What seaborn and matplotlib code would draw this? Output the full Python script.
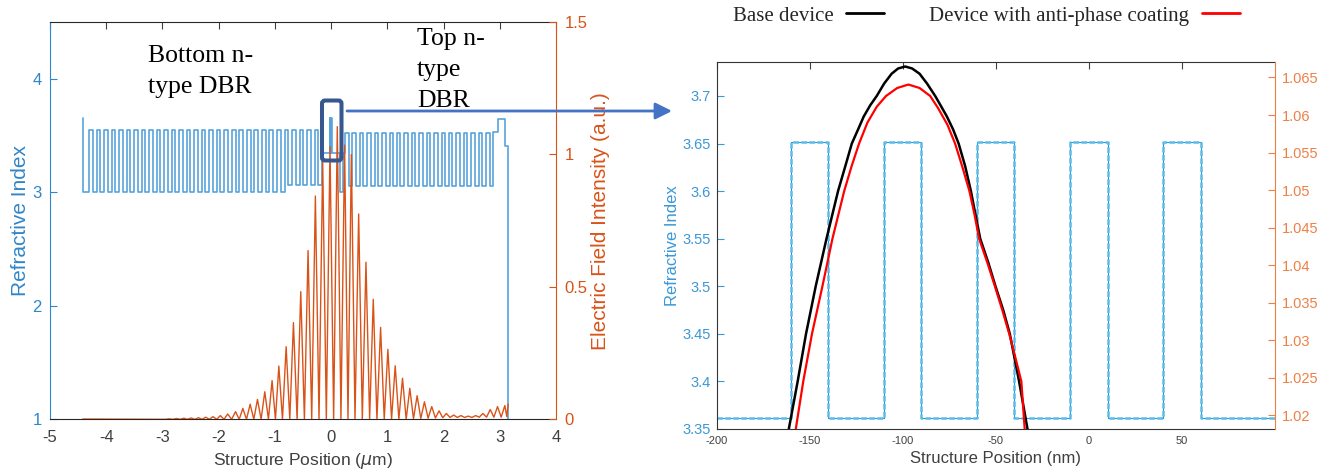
import numpy as np
import matplotlib
matplotlib.use('Agg')
import matplotlib.pyplot as plt
import matplotlib.transforms as mtransforms
from matplotlib.patches import FancyBboxPatch, FancyArrowPatch
from matplotlib.lines import Line2D
from matplotlib.ticker import FuncFormatter
import seaborn as sns

sns.set_style('white')
plt.rcParams['font.family'] = ['Liberation Sans', 'DejaVu Sans']
plt.rcParams['axes.unicode_minus'] = False

# ---------------- left panel: layer stack (thickness in um, refractive index)
stack_start = -4.42
substrate_t = [0.012, 0.108]
substrate_n = [3.654, 3.0]
bot_dbr_pairs = 26
bot_dbr_t = [0.063, 0.0705]
bot_dbr_n = [3.548, 3.0]
bot_dbr2_pairs = 5
bot_dbr2_t = [0.063, 0.0705]
bot_dbr2_n = [3.548, 3.06]
cavity_t = [0.135, 0.015, 0.01, 0.015, 0.15, 0.04, 0.044]
cavity_n = [3.35, 3.654, 3.35, 3.654, 3.35, 3.0, 3.35]
top_dbr_pairs = 20
top_dbr_t = [0.062, 0.07]
top_dbr_n = [3.518, 3.059]
cap_t = [0.086, 0.12, 0.05]
cap_n = [3.53, 3.645, 3.41]
air_n = 1.0

# electric field intensity (a.u.) - standing wave peaks and troughs
peak_x = [-2.88, -2.75, -2.62, -2.49, -2.36, -2.23, -2.10, -1.97, -1.84, -1.70,
          -1.57, -1.44, -1.31, -1.18, -1.05, -0.93, -0.80, -0.67, -0.54, -0.41,
          -0.28, -0.15, -0.02, 0.11, 0.24, 0.36, 0.49, 0.62, 0.75, 0.88,
          1.01, 1.14, 1.27, 1.40, 1.53, 1.66, 1.79, 1.92, 2.05, 2.18,
          2.31, 2.44, 2.57, 2.70, 2.83, 2.96, 3.09]
peak_e = [0.002, 0.003, 0.004, 0.005, 0.006, 0.008, 0.010, 0.014, 0.020, 0.029,
          0.041, 0.057, 0.075, 0.104, 0.146, 0.201, 0.274, 0.365, 0.482, 0.637,
          0.843, 0.980, 1.030, 1.105, 1.035, 1.000, 0.775, 0.593, 0.453, 0.347,
          0.264, 0.202, 0.155, 0.117, 0.089, 0.066, 0.048, 0.032, 0.022, 0.016,
          0.014, 0.012, 0.014, 0.022, 0.037, 0.048, 0.052]
trough_x = [-2.945, -2.815, -2.685, -2.555, -2.425, -2.295, -2.165, -2.035, -1.905, -1.77,
            -1.635, -1.505, -1.375, -1.245, -1.115, -0.99, -0.865, -0.735, -0.605, -0.475,
            -0.345, -0.215, -0.085, 0.045, 0.175, 0.30, 0.425, 0.555, 0.685, 0.815,
            0.945, 1.075, 1.205, 1.335, 1.465, 1.595, 1.725, 1.855, 1.985, 2.115,
            2.245, 2.375, 2.505, 2.635, 2.765, 2.895, 3.025]
trough_e = [0.0, 0.0, 0.0, 0.0, 0.0, 0.0, 0.0, 0.0, 0.0, 0.0,
            0.0, 0.0, 0.0, 0.0, 0.0, 0.0, 0.0, 0.0, 0.0, 0.0,
            0.0, 0.0, 0.0, 0.0, 0.0, 0.0, 0.0, 0.0, 0.0, 0.0,
            0.0, 0.0, 0.0, 0.0, 0.002, 0.003, 0.004, 0.005, 0.006, 0.007,
            0.007, 0.007, 0.007, 0.008, 0.008, 0.008, 0.008]
field_start = (-4.42, 0.001)
field_end_x = [3.125, 3.15]
field_end_e = [0.01, 0.058]

# ---------------- right panel: zoom on the active region (nm)
qw_edges = [-200, -160, -140, -110, -90, -60, -40, -10, 10, 40, 60, 100]
qw_n = [3.362, 3.652, 3.362, 3.652, 3.362, 3.652, 3.362, 3.652, 3.362, 3.652, 3.362]

base_x = [-162.7, -161.25, -156.5, -152.0, -146.8, -141.0, -134.8, -131.0, -127.4, -124.0,
          -121.0, -117.5, -114.0, -110.0, -106.0, -102.5, -98.7, -95.0, -91.0, -87.0,
          -82.6, -79.5, -76.3, -73.0, -70.0, -66.5, -63.4, -61.0, -58.4, -54.0,
          -50.2, -46.0, -42.5, -40.0, -37.5, -35.2, -33.0, -31.5]
base_e = [1.0163, 1.0182, 1.02453, 1.03087, 1.0372, 1.04354, 1.04987, 1.0531, 1.0562, 1.0581,
          1.0598, 1.0613, 1.06254, 1.0642, 1.0655, 1.0662, 1.06646, 1.0662, 1.0655, 1.0642,
          1.06254, 1.0612, 1.0598, 1.0581, 1.0562, 1.0532, 1.04987, 1.0468, 1.04354, 1.0403,
          1.0372, 1.0340, 1.03087, 1.0277, 1.02453, 1.0213, 1.0182, 1.0161]
coat_x = [-158.8, -157.5, -153.5, -148.8, -143.2, -137.8, -131.5, -127.5, -123.5, -119.0,
          -114.0, -109.0, -103.0, -97.0, -91.0, -85.3, -81.0, -76.0, -71.9, -68.0,
          -64.2, -61.5, -59.0, -54.5, -50.5, -46.5, -42.8, -39.5, -36.3, -34.5, -34.0]
coat_e = [1.0161, 1.0182, 1.02453, 1.03087, 1.0372, 1.04354, 1.04987, 1.0532, 1.0562, 1.0590,
          1.0611, 1.06254, 1.0636, 1.06406, 1.0636, 1.06254, 1.0609, 1.0587, 1.0562, 1.0531,
          1.04987, 1.0468, 1.04354, 1.0403, 1.0372, 1.0340, 1.03087, 1.0277, 1.02453, 1.0182, 1.0165]

BLUE = '#2F86C9'
BLUE_LINE = '#58A3DB'
ORANGE = '#D95319'
R_BLUE = '#3B97D8'
R_LINE = '#5CBDEB'
R_ORANGE = '#EE8046'
DARK = '#404040'

W, H = 1333, 472
fig = plt.figure(figsize=(W / 100, H / 100), dpi=100)
px = mtransforms.IdentityTransform()
fmt = FuncFormatter(lambda v, p: '%g' % v)

# ---- left panel
axL = fig.add_axes([50 / W, 1 - 419.3 / H, 506 / W, (419.3 - 22) / H])
axL2 = axL.twinx()

layer_t = (substrate_t + bot_dbr_t * bot_dbr_pairs + bot_dbr2_t * bot_dbr2_pairs
           + cavity_t + top_dbr_t * top_dbr_pairs + cap_t)
layer_n = (substrate_n + bot_dbr_n * bot_dbr_pairs + bot_dbr2_n * bot_dbr2_pairs
           + cavity_n + top_dbr_n * top_dbr_pairs + cap_n)
edges = stack_start + np.concatenate([[0], np.cumsum(layer_t)])
prof_x = np.append(np.repeat(edges, 2)[1:-1], edges[-1])
prof_n = np.append(np.repeat(layer_n, 2), air_n)
sns.lineplot(x=prof_x, y=prof_n, ax=axL, color=BLUE_LINE, lw=1.2,
             estimator=None, sort=False)

fx = [field_start[0]]
fe = [field_start[1]]
for tx, te, pxx, pe in zip(trough_x, trough_e, peak_x, peak_e):
    fx += [tx, pxx]
    fe += [te, pe]
fx += field_end_x
fe += field_end_e
sns.lineplot(x=fx, y=fe, ax=axL2, color=ORANGE, lw=1.0, estimator=None, sort=False)

axL.set_xlim(-5, 4)
axL.set_ylim(1, 4.5)
axL2.set_ylim(0, 1.5)
axL.set_xticks(range(-5, 5))
axL.set_yticks([1, 2, 3, 4])
axL2.set_yticks([0, 0.5, 1, 1.5])
for a in (axL, axL2):
    a.xaxis.set_major_formatter(fmt)
    a.yaxis.set_major_formatter(fmt)
axL.tick_params(axis='x', direction='in', top=True, length=5, width=0.8, pad=8,
                labelsize=12, colors=DARK)
axL.tick_params(axis='y', direction='in', length=5, width=0.8, pad=6,
                labelsize=12, colors=BLUE)
axL2.tick_params(axis='y', direction='in', length=5, width=0.8, pad=6,
                 labelsize=12, colors=ORANGE)
axL.set_xlabel('Structure Position ($\\mu$m)', fontsize=12.5, color=DARK, labelpad=4)
axL.set_ylabel('Refractive Index', fontsize=15, color=BLUE, labelpad=2)
axL2.set_ylabel('Electric Field Intensity (a.u.)', fontsize=15, color=ORANGE, labelpad=3)
for s in ('top', 'bottom'):
    axL.spines[s].set_color('#262626')
    axL2.spines[s].set_visible(False)
axL.spines['left'].set_color(BLUE)
axL.spines['right'].set_visible(False)
axL2.spines['left'].set_visible(False)
axL2.spines['right'].set_color(ORANGE)
for a in (axL, axL2):
    for s in a.spines.values():
        s.set_linewidth(0.8)

# ---- right panel
axR = fig.add_axes([716.7 / W, 1 - 429 / H, 558.3 / W, (429 - 61.7) / H])
axR2 = axR.twinx()

qx = np.repeat(qw_edges, 2)[1:-1]
qn = np.repeat(qw_n, 2)
sns.lineplot(x=qx, y=qn, ax=axR, color='#2A95D5', lw=0.8, estimator=None, sort=False)
sns.lineplot(x=qx, y=qn, ax=axR, color=R_LINE, lw=1.8, linestyle=(0, (2.2, 1.0)),
             estimator=None, sort=False)
sns.lineplot(x=base_x, y=base_e, ax=axR2, color='black', lw=1.8, estimator=None, sort=False)
sns.lineplot(x=coat_x, y=coat_e, ax=axR2, color='#FF0000', lw=1.6, estimator=None, sort=False)

axR.set_xlim(-200, 100)
axR.set_ylim(3.35, 3.736)
axR2.set_ylim(1.0182, 1.0671)
axR.set_xticks([-200, -150, -100, -50, 0, 50])
axR.set_yticks([3.35, 3.4, 3.45, 3.5, 3.55, 3.6, 3.65, 3.7])
axR2.set_yticks([1.02, 1.025, 1.03, 1.035, 1.04, 1.045, 1.05, 1.055, 1.06, 1.065])
for a in (axR, axR2):
    a.xaxis.set_major_formatter(fmt)
    a.yaxis.set_major_formatter(fmt)
axR.tick_params(axis='x', direction='in', top=True, length=5, width=0.8, pad=5,
                labelsize=8, colors=DARK)
axR.tick_params(axis='y', direction='in', length=5, width=0.8, pad=4,
                labelsize=10.5, colors=R_BLUE)
axR2.tick_params(axis='y', direction='in', length=5, width=0.8, pad=5,
                 labelsize=10.5, colors=R_ORANGE)
axR.set_xlabel('Structure Position (nm)', fontsize=12, color=DARK, labelpad=4)
axR.set_ylabel('Refractive Index', fontsize=12, color=R_BLUE, labelpad=2)
for s in ('top', 'bottom', 'left'):
    axR.spines[s].set_color('#333333')
axR.spines['right'].set_visible(False)
for s in ('top', 'bottom', 'left'):
    axR2.spines[s].set_visible(False)
axR2.spines['right'].set_color(R_ORANGE)
for a in (axR, axR2):
    for s in a.spines.values():
        s.set_linewidth(0.8)

# ---- annotations (figure pixel positions)
serif = 'Liberation Serif'
for txt, x, y in [('Bottom n-', 148, 62), ('type DBR', 148, 93),
                  ('Top n-', 417, 45), ('type', 417, 76), ('DBR', 417, 107)]:
    fig.text(x / W, 1 - y / H, txt, fontsize=18.5, family=serif, va='baseline',
             ha='left', color='black')

box = FancyBboxPatch((322, H - 160.5), 19.5, 60, boxstyle='round,pad=0,rounding_size=3',
                     transform=px, fill=False, edgecolor='#36588F', lw=2.9, zorder=10)
fig.patches.append(box)
arrow = FancyArrowPatch((347, H - 111), (672, H - 111), transform=px,
                        arrowstyle='-|>,head_length=10,head_width=5', mutation_scale=1,
                        color='#4472C4', lw=2.0, shrinkA=0, shrinkB=0, zorder=10)
fig.patches.append(arrow)

fig.text(733 / W, 1 - 21 / H, 'Base device', fontsize=15, family=serif, va='baseline')
fig.lines.append(Line2D([846, 884], [H - 13, H - 13], transform=px, color='black', lw=2))
fig.text(929 / W, 1 - 21 / H, 'Device with anti-phase coating', fontsize=15, family=serif,
         va='baseline')
fig.lines.append(Line2D([1202, 1240], [H - 13, H - 13], transform=px, color='#FF0000', lw=2))

fig.savefig('out.png', dpi=100)
